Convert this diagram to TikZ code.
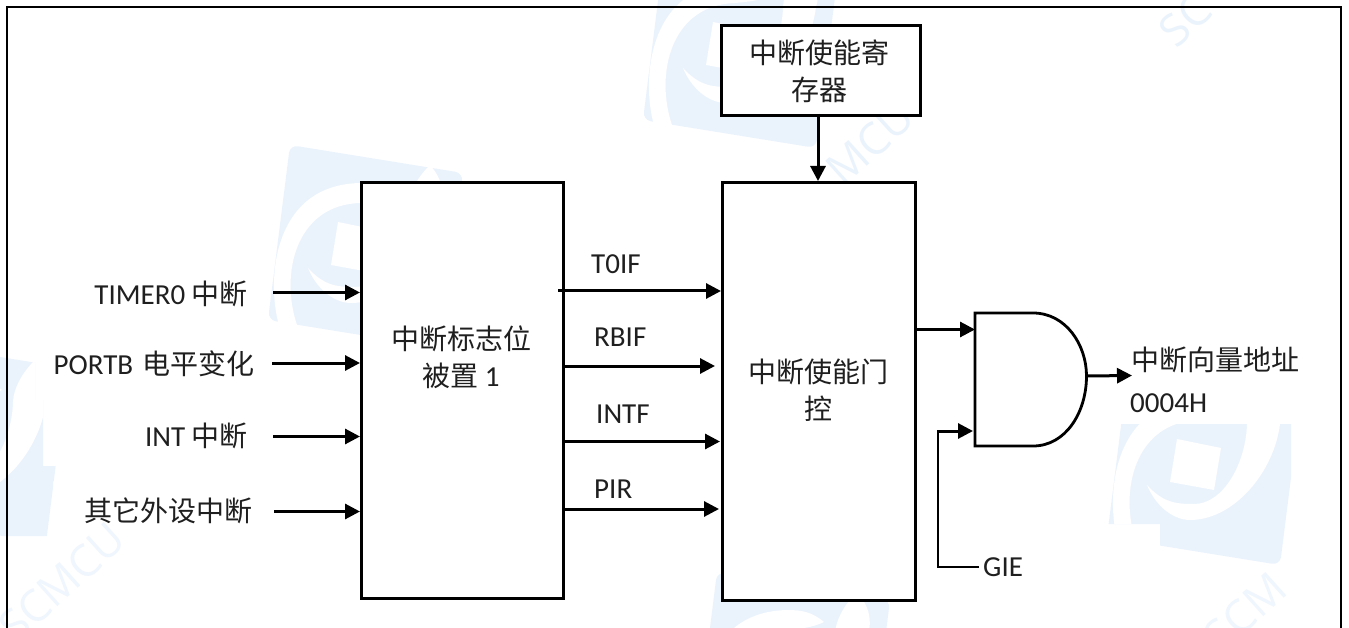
\documentclass[tikz,border=0pt]{standalone}
\usepackage{fontspec}
\setmainfont{Carlito}
\newfontfamily\cjk{Noto Sans CJK SC}
\newfontfamily\wmfont{Open Sans}
\usetikzlibrary{arrows.meta}
\definecolor{wm}{HTML}{EAF3FC}
\definecolor{wmpale}{HTML}{F0F6FD}
\newcommand{\zh}[1]{{\cjk\fontsize{28}{37}\selectfont #1}}
\tikzset{
  x=1pt,y=-1pt,
  frameline/.style={line width=2pt,black},
  boxnode/.style={draw=black,line width=2.8pt,fill=white,inner sep=0pt,anchor=north west},
  arr/.style={line width=3pt,-{Triangle[length=15pt,width=15pt]}},
  lab/.style={inner sep=0pt,text=black!88,font=\fontsize{29}{37}\selectfont,align=center},
  wmtext/.style={text=wm,font=\wmfont\fontsize{44}{44}\selectfont,inner sep=0pt},
  pics/logo/.style={code={
    \fill[wm,rounded corners=8pt] (-75,-100) -- (98,-72) -- (76,103) -- (-97,75) -- cycle;
    \fill[white] (-86,80) .. controls (-98,40) and (-95,-60) .. (-5,-62) .. controls (10,-62) and (20,-60) .. (32,-50) .. controls (20,-44) and (5,-43) .. (-5,-42) .. controls (-70,-40) and (-85,30) .. (-68,80) -- cycle;
    \fill[white] (-57,23) .. controls (-40,42) and (-25,42) .. (-10,42) .. controls (20,42) and (42,0) .. (43,-38) .. controls (44,-55) and (55,-70) .. (65,-80) .. controls (78,-65) and (80,-50) .. (76,-38) .. controls (70,10) and (30,58) .. (-14,58) .. controls (-30,58) and (-48,45) .. (-57,23) -- cycle;
    \fill[white] (-27,-23) -- (17,-14) -- (10,28) -- (-34,20) -- cycle;
  }}
}
\begin{document}
\begin{tikzpicture}
\useasboundingbox (0,0) rectangle (1349,628);
\fill[white] (0,0) rectangle (1349,628);
% watermark
\begin{scope}
\clip (0,0) rectangle (1291,628);
\pic at (365,245) {logo};
\pic at (740,45) {logo};
\pic at (792,672) {logo};
\begin{scope}
\clip (0,347) -- (35,353) -- (35,400) -- (43,400) -- (43,466) -- (77,466) -- (77,481) -- (53,481) -- (53,536) -- (0,536) -- cycle;
\pic at (-30,440) {logo};
\end{scope}
\begin{scope}
\clip (1101,424) -- (1291,424) -- (1291,628) -- (1160,628) -- (1160,524) -- (1101,524) -- cycle;
\pic at (1204,462) {logo};
\end{scope}
\node[wmtext,rotate=42,text=wmpale] at (62,582) {SCMCU};
\node[wmtext,rotate=42] at (870,143) {MCU};
\node[wmtext,rotate=42] at (1185,20) {SC};
\node[wmtext,rotate=42,text=wmpale] at (1245,612) {SCM};
\end{scope}
\draw[frameline] (6.5,628) -- (6.5,7) -- (1341,7) -- (1341,628);
% boxes
\node[boxnode,minimum width=202pt,minimum height=416pt] (flag) at (360,181) {};
\node[boxnode,minimum width=193pt,minimum height=418pt] (gatectl) at (721,181) {};
\node[boxnode,minimum width=199pt,minimum height=90pt] (reg) at (720,24) {};
\node[lab] (regt) at (819,71) {\zh{中断使能寄}\\\zh{存器}};
\node[lab] (flagt) at (461,357) {\zh{中断标志位}\\\zh{被置} 1};
\node[lab] (ctlt) at (818,390) {\zh{中断使能门}\\\zh{控}};
% AND gate
\coordinate (gatenw) at (975,313);
\coordinate (gatesw) at (975,446);
\coordinate (gateout) at (1086.5,376);
\draw[line width=2.8pt,fill=white] (gatenw) -- (1033,313) .. controls (1066,313) and (1086.5,345) .. (gateout) .. controls (1086.5,412) and (1066,446) .. (1033,446) -- (gatesw) -- cycle;
% inputs
\node[lab,anchor=east] (i1) at (248,294) {TIMER0 \zh{中断}};
\node[lab,anchor=east] (i2) at (255,364) {PORTB\hspace{3pt} \zh{电平变化}};
\node[lab,anchor=east] (i3) at (248,436) {INT \zh{中断}};
\node[lab,anchor=east] (i4) at (253,511) {\zh{其它外设中断}};
\coordinate (s1) at (273,292.5);
\coordinate (s2) at (272,363);
\coordinate (s3) at (273,436.5);
\coordinate (s4) at (274,511.5);
\draw[arr] (s1) -- (s1 -| flag.west);
\draw[arr] (s2) -- (s2 -| flag.west);
\draw[arr] (s3) -- (s3 -| flag.west);
\draw[arr] (s4) -- (s4 -| flag.west);
% outputs
\coordinate (o1) at (558,291);
\coordinate (o2) at (562,366);
\coordinate (o3) at (562,441.5);
\coordinate (o4) at (562,509);
\coordinate (e2) at (715,366);
\coordinate (e3) at (720,441.5);
\coordinate (e4) at (719,509);
\draw[arr] (o1) -- (o1 -| gatectl.west);
\draw[arr] (o2) -- (e2);
\draw[arr] (o3) -- (e3);
\draw[arr] (o4) -- (e4);
\node[lab,anchor=west] (t1) at (591,264) {T0IF};
\node[lab,anchor=west] (t2) at (594,337) {RBIF};
\node[lab,anchor=west] (t3) at (596,414) {INTF};
\node[lab,anchor=west] (t4) at (594,489) {PIR};
% register arrow
\coordinate (r1) at (818,114);
\draw[arr] (r1) -- (r1 |- gatectl.north);
% gate connections
\coordinate (g1) at (914,329.5);
\draw[arr] (g1) -- (g1 -| gatenw);
\node[lab,anchor=west] (gie) at (983,567) {GIE};
\coordinate (gi) at (973,431);
\draw[line width=2pt] (gie.west) ++(-4,0) -- (938,567) -- (938,431);
\draw[arr] (937,431) -- (gi);
\draw[arr] (gateout) -- (1132,375.5);
\node[lab,anchor=west] (a1) at (1131,360) {\zh{中断向量地址}};
\node[lab,anchor=west] (a2) at (1130,403) {0004H};
\end{tikzpicture}
\end{document}
